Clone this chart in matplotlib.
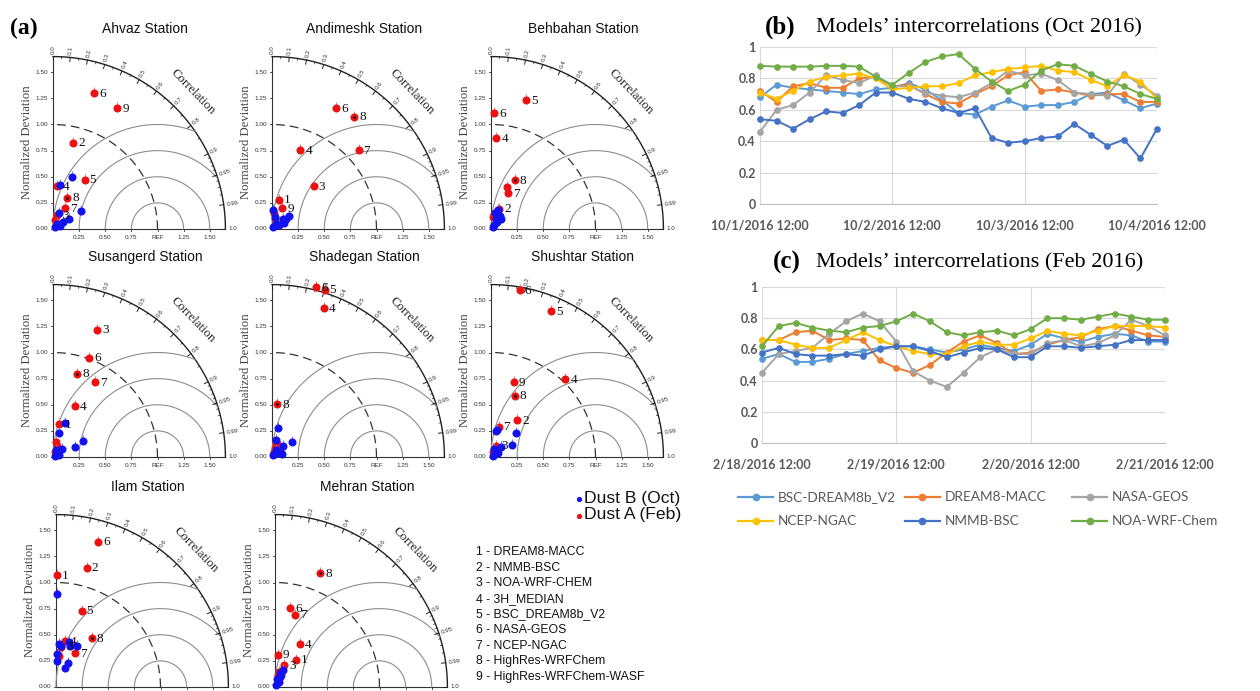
import numpy as np
import matplotlib
matplotlib.use("Agg")
import matplotlib.pyplot as plt
from matplotlib.lines import Line2D
from matplotlib.transforms import offset_copy

# ---------------- Taylor diagram data (normalized std, correlation) ----------------
stations = ["Ahvaz", "Andimeshk", "Behbahan", "Susangerd", "Shadegan",
            "Shushtar", "Ilam", "Mehran"]

# red = Dust A (Feb), models 1..9
red_std = {
    "Ahvaz":     [0.09, 0.85, 0.14, 0.41, 0.56, 1.36, 0.23, 0.33, 1.31],
    "Andimeshk": [0.29, 0.15, 0.57, 0.80, 0.10, 1.31, 1.12, 1.33, 0.22],
    "Behbahan":  [0.15, 0.21, 0.43, 0.87, 1.28, 1.11, 0.38, 0.52, 0.12],
    "Susangerd": [0.32, 0.15, 1.29, 0.53, 0.11, 1.01, 0.82, 0.83, 0.05],
    "Shadegan":  [0.09, 0.13, 0.05, 1.51, 1.68, 1.68, 0.10, 0.51, 0.15],
    "Shushtar":  [0.05, 0.43, 0.12, 1.03, 1.51, 1.62, 0.30, 0.63, 0.75],
    "Ilam":      [1.07, 1.18, 0.39, 0.45, 0.77, 1.45, 0.37, 0.58, 0.30],
    "Mehran":    [0.33, 0.12, 0.23, 0.47, 0.15, 0.77, 0.72, 1.17, 0.31],
}
red_cor = {
    "Ahvaz":     [0.22, 0.23, 0.29, 0.10, 0.54, 0.29, 0.52, 0.42, 0.47],
    "Andimeshk": [0.24, 0.13, 0.70, 0.34, 0.29, 0.47, 0.74, 0.59, 0.45],
    "Behbahan":  [0.20, 0.37, 0.35, 0.06, 0.26, 0.03, 0.43, 0.44, 0.16],
    "Susangerd": [0.19, 0.20, 0.33, 0.40, 0.37, 0.34, 0.49, 0.28, 0.37],
    "Shadegan":  [0.35, 0.38, 0.37, 0.33, 0.30, 0.25, 0.80, 0.10, 0.26],
    "Shushtar":  [0.37, 0.58, 0.41, 0.69, 0.38, 0.17, 0.24, 0.36, 0.29],
    "Ilam":      [0.01, 0.25, 0.13, 0.19, 0.32, 0.28, 0.49, 0.59, 0.10],
    "Mehran":    [0.61, 0.24, 0.39, 0.50, 0.26, 0.19, 0.27, 0.37, 0.08],
}
# which model numbers are written next to the red points
red_shown = {
    "Ahvaz":     [2, 3, 4, 5, 6, 7, 8, 9],
    "Andimeshk": [1, 3, 4, 6, 7, 8, 9],
    "Behbahan":  [2, 4, 5, 6, 7, 8],
    "Susangerd": [1, 3, 4, 6, 7, 8],
    "Shadegan":  [4, 5, 6, 8],
    "Shushtar":  [2, 3, 4, 5, 6, 7, 8, 9],
    "Ilam":      [1, 2, 3, 4, 5, 6, 7, 8],
    "Mehran":    [1, 3, 4, 6, 7, 8, 9],
}
# blue = Dust B (Oct)
blue_std = {
    "Ahvaz":     [0.53, 0.43, 0.32, 0.18, 0.16, 0.06, 0.07, 0.03, 0.12],
    "Andimeshk": [0.21, 0.14, 0.06, 0.18, 0.12, 0.08, 0.17, 0.02, 0.13],
    "Behbahan":  [0.19, 0.15, 0.09, 0.05, 0.16, 0.13, 0.03, 0.11],
    "Susangerd": [0.35, 0.24, 0.33, 0.23, 0.11, 0.07, 0.06, 0.02],
    "Shadegan":  [0.28, 0.17, 0.24, 0.15, 0.08, 0.08, 0.02, 0.10],
    "Shushtar":  [0.27, 0.25, 0.33, 0.23, 0.14, 0.08, 0.08, 0.02],
    "Ilam":      [0.89, 0.40, 0.45, 0.41, 0.44, 0.32, 0.25, 0.26, 0.20, 0.41],
    "Mehran":    [0.18, 0.14, 0.08, 0.06, 0.02, 0.11, 0.13],
}
blue_cor = {
    "Ahvaz":     [0.34, 0.16, 0.85, 0.83, 0.37, 0.63, 0.89, 0.71, 0.82],
    "Andimeshk": [0.79, 0.74, 0.63, 0.06, 0.24, 0.87, 0.81, 0.45, 0.89],
    "Behbahan":  [0.36, 0.60, 0.65, 0.60, 0.26, 0.71, 0.71, 0.45],
    "Susangerd": [0.34, 0.25, 0.88, 0.90, 0.75, 0.45, 0.95, 0.89],
    "Shadegan":  [0.22, 0.20, 0.79, 0.72, 0.50, 0.87, 0.45, 0.95],
    "Shushtar":  [0.23, 0.20, 0.72, 0.86, 0.71, 0.39, 0.87, 0.89],
    "Ilam":      [0.01, 0.12, 0.27, 0.32, 0.46, 0.03, 0.04, 0.46, 0.43, 0.07],
    "Mehran":    [0.40, 0.33, 0.24, 0.57, 0.24, 0.47, 0.45],
}

model_list = ["DREAM8-MACC", "NMMB-BSC", "NOA-WRF-CHEM", "3H_MEDIAN",
              "BSC_DREAM8b_V2", "NASA-GEOS", "NCEP-NGAC", "HighRes-WRFChem",
              "HighRes-WRFChem-WASF"]

# ---------------- intercorrelation line charts ----------------
series_names = ["BSC-DREAM8b_V2", "DREAM8-MACC", "NASA-GEOS",
                "NCEP-NGAC", "NMMB-BSC", "NOA-WRF-Chem"]
series_colors = ["#5B9BD5", "#ED7D31", "#A5A5A5", "#FFC000", "#4472C4", "#70AD47"]

oct_labels = ["10/1/2016 12:00", "10/2/2016 12:00", "10/3/2016 12:00", "10/4/2016 12:00"]
oct_bsc = [0.68, 0.76, 0.74, 0.73, 0.72, 0.71, 0.70, 0.73, 0.74, 0.77, 0.73, 0.66, 0.58,
           0.57, 0.62, 0.66, 0.62, 0.63, 0.63, 0.65, 0.70, 0.71, 0.66, 0.61, 0.64]
oct_dream = [0.72, 0.65, 0.75, 0.77, 0.74, 0.74, 0.80, 0.81, 0.75, 0.76, 0.70, 0.65, 0.64,
             0.70, 0.75, 0.82, 0.84, 0.72, 0.73, 0.71, 0.69, 0.70, 0.70, 0.65, 0.65]
oct_nasa = [0.46, 0.60, 0.63, 0.71, 0.82, 0.79, 0.77, 0.82, 0.75, 0.75, 0.71, 0.69, 0.68,
            0.71, 0.77, 0.85, 0.82, 0.83, 0.79, 0.71, 0.70, 0.69, 0.83, 0.76, 0.69]
oct_ncep = [0.71, 0.67, 0.72, 0.78, 0.81, 0.82, 0.83, 0.80, 0.73, 0.74, 0.75, 0.75, 0.77,
            0.82, 0.84, 0.86, 0.87, 0.88, 0.85, 0.84, 0.79, 0.75, 0.82, 0.78, 0.67]
oct_nmmb = [0.54, 0.53, 0.48, 0.54, 0.59, 0.58, 0.63, 0.71, 0.71, 0.67, 0.65, 0.61, 0.58,
            0.61, 0.42, 0.39, 0.40, 0.42, 0.43, 0.51, 0.44, 0.37, 0.41, 0.29, 0.48]
oct_noa = [0.88, 0.875, 0.875, 0.875, 0.88, 0.88, 0.875, 0.81, 0.76, 0.835, 0.905, 0.94, 0.955,
           0.86, 0.78, 0.72, 0.76, 0.85, 0.89, 0.88, 0.83, 0.78, 0.75, 0.70, 0.67]

feb_labels = ["2/18/2016 12:00", "2/19/2016 12:00", "2/20/2016 12:00", "2/21/2016 12:00"]
feb_bsc = [0.54, 0.57, 0.52, 0.52, 0.54, 0.57, 0.59, 0.61, 0.62, 0.62, 0.60, 0.58, 0.60,
           0.63, 0.61, 0.59, 0.63, 0.70, 0.67, 0.65, 0.68, 0.70, 0.69, 0.65, 0.65]
feb_dream = [0.66, 0.66, 0.71, 0.72, 0.66, 0.67, 0.66, 0.53, 0.48, 0.45, 0.50, 0.58, 0.65,
             0.69, 0.64, 0.57, 0.58, 0.63, 0.66, 0.68, 0.73, 0.75, 0.72, 0.69, 0.68]
feb_nasa = [0.45, 0.57, 0.59, 0.61, 0.70, 0.78, 0.83, 0.78, 0.65, 0.46, 0.40, 0.36, 0.45,
            0.55, 0.60, 0.57, 0.57, 0.64, 0.66, 0.62, 0.64, 0.69, 0.79, 0.75, 0.69]
feb_ncep = [0.66, 0.66, 0.63, 0.61, 0.61, 0.66, 0.71, 0.66, 0.62, 0.59, 0.57, 0.57, 0.62,
            0.65, 0.63, 0.63, 0.67, 0.72, 0.70, 0.69, 0.72, 0.75, 0.75, 0.75, 0.74]
feb_nmmb = [0.58, 0.61, 0.57, 0.56, 0.56, 0.57, 0.56, 0.60, 0.62, 0.62, 0.59, 0.55, 0.58,
            0.61, 0.60, 0.55, 0.55, 0.62, 0.62, 0.61, 0.62, 0.63, 0.66, 0.66, 0.66]
feb_noa = [0.62, 0.75, 0.77, 0.74, 0.72, 0.71, 0.74, 0.75, 0.78, 0.83, 0.78, 0.71, 0.69,
           0.71, 0.72, 0.69, 0.73, 0.80, 0.80, 0.79, 0.81, 0.83, 0.81, 0.79, 0.79]

W, H = 1260, 691
fig = plt.figure(figsize=(W / 100, H / 100), dpi=100)


def px_axes(x0, y0, w, h):
    # x0 = left, y0 = bottom, both in image pixels counted from the top-left
    return fig.add_axes([x0 / W, 1 - y0 / H, w / W, h / H])


def fx(x):
    return x / W


def fy(y):
    return 1 - y / H


SERIF = "Liberation Serif"
SANS = "Liberation Sans"
R = 1.65
S = 104.5
origins = [(53, 229), (272, 229), (491, 229), (53, 457), (272, 457), (491, 457),
           (56, 687), (275, 687)]


def taylor(ax, name, xlabels=True):
    ax.set_xlim(0, R)
    ax.set_ylim(0, R)
    ax.axis("off")
    k = dict(clip_on=False)
    th = np.linspace(0, np.pi / 2, 300)
    ax.plot(R * np.cos(th), R * np.sin(th), color="#222222", lw=1.0, **k)
    ax.plot([0, 0], [0, R], color="#333333", lw=0.8, **k)
    ax.plot([0, R], [0, 0], color="#333333", lw=0.8, **k)
    ax.plot(np.cos(th), np.sin(th), color="#333333", lw=0.9, ls=(0, (7, 4)), **k)
    t = np.linspace(0, np.pi, 400)
    for r in [0.25, 0.5, 0.75, 1.0]:
        xx = 1 + r * np.cos(t)
        yy = r * np.sin(t)
        m = xx ** 2 + yy ** 2 <= R ** 2
        ax.plot(xx[m], yy[m], color="#8c8c8c", lw=0.8, **k)

    # correlation ticks on the outer arc
    major = [0.0, 0.1, 0.2, 0.3, 0.4, 0.5, 0.6, 0.7, 0.8, 0.9, 0.95, 0.99, 1.0]
    minor = list(np.arange(0.05, 0.9, 0.1)) + list(np.arange(0.91, 0.99, 0.01))
    for c in minor:
        a = np.arccos(c)
        ax.plot([(R - 0.018) * np.cos(a), R * np.cos(a)],
                [(R - 0.018) * np.sin(a), R * np.sin(a)], color="#222222", lw=0.5, **k)
    for c in major:
        a = np.arccos(c)
        ax.plot([(R - 0.04) * np.cos(a), R * np.cos(a)],
                [(R - 0.04) * np.sin(a), R * np.sin(a)], color="#222222", lw=0.7, **k)
        lab = "%.2f" % c if c in (0.95, 0.99) else "%.1f" % c
        ax.text((R + 0.025) * np.cos(a), (R + 0.025) * np.sin(a), lab,
                rotation=np.degrees(a), rotation_mode="anchor", ha="left", va="center",
                fontsize=4.5, family=SANS, color="#333333")
    ax.text(1.34, 1.31, "Correlation", rotation=-46, ha="center", va="center",
            fontsize=9.3, family=SERIF, color="#222222")

    # std axes
    for v in np.arange(0, 1.51, 0.25):
        ax.plot([-0.02, 0], [v, v], color="#333333", lw=0.6, **k)
        ax.text(-0.045, v, "%.2f" % v, ha="right", va="center", fontsize=4.6,
                family=SANS, color="#333333")
    for v in np.arange(0.25, 1.51, 0.25):
        ax.plot([v, v], [-0.02, 0], color="#333333", lw=0.6, **k)
        if xlabels:
            ax.text(v, -0.085, "REF" if v == 1.0 else "%.2f" % v, ha="center",
                    va="center", fontsize=4.6, family=SANS, color="#333333")
    ax.text(-0.25, 0.83, "Normalized Deviation", rotation=90, ha="center", va="center",
            fontsize=9.2, family=SERIF, color="#444444")
    ax.text(0.88, 1.91, name + " Station", ha="center", va="center", fontsize=10,
            family=SANS, color="#111111")

    pin = offset_copy(ax.transData, fig=fig, x=0, y=4, units="dots")
    rs = np.array(red_std[name])
    rc = np.array(red_cor[name])
    rx, ry = rs * rc, rs * np.sqrt(1 - rc ** 2)
    bs = np.array(blue_std[name])
    bc = np.array(blue_cor[name])
    bx, by = bs * bc, bs * np.sqrt(1 - bc ** 2)

    ax.plot(rx, ry, "|", ms=3, mew=0.8, color="#f47a7a", transform=pin, **k)
    ax.plot(rx, ry, "o", ms=5.8, mec="none", color="#ee1111", **k)
    ax.plot(rx[7], ry[7], "o", ms=1.8, mec="none", color="black", **k)
    ax.plot(bx, by, "|", ms=3, mew=0.8, color="#7a7af4", transform=pin, **k)
    ax.plot(bx, by, "o", ms=5.8, mec="none", color="#1212ee", **k)
    for n in red_shown[name]:
        ax.annotate(str(n), (rx[n - 1], ry[n - 1]), xytext=(3.6, -0.5),
                    textcoords="offset points", ha="left", va="center",
                    fontsize=9.5, family=SERIF, color="#111111")


for i, (name, (ox, oy)) in enumerate(zip(stations, origins)):
    ax = px_axes(ox, oy, R * S, R * S)
    # the bottom row's x labels fall below the edge of the picture
    taylor(ax, name, xlabels=i < 6)

fig.text(fx(10), fy(28), "(a)", fontsize=17, fontweight="bold", family=SERIF,
         ha="left", va="center")

# Dust legend and model list
for yy, col, lab in [(498, "#1212ee", "Dust B (Oct)"), (515, "#ee1111", "Dust A (Feb)")]:
    fig.add_artist(Line2D([fx(579)], [fy(yy + 1)], marker="o", ms=3.8, mec="none",
                          color=col, linestyle="none"))
    fig.text(fx(584), fy(yy), lab, fontsize=12.6, family=SANS, ha="left", va="center",
             color="#111111")
for i, m in enumerate(model_list):
    fig.text(fx(476), fy(552 + 15.6 * i), "%d - %s" % (i + 1, m), fontsize=8.8,
             family=SANS, ha="left", va="center", color="#111111")


# ---------------- line panels ----------------
def line_panel(ax, series, xlabels):
    x = np.arange(len(series[0]))
    ax.set_xlim(0, 24)
    ax.set_ylim(0, 1)
    ax.set_yticks([0, 0.2, 0.4, 0.6, 0.8, 1.0])
    ax.set_yticklabels(["0", "0.2", "0.4", "0.6", "0.8", "1"])
    ax.set_xticks([0, 8, 16, 24])
    ax.set_xticklabels(xlabels)
    ax.grid(True, color="#d9d9d9", lw=0.8)
    ax.set_axisbelow(True)
    for sp in ["top", "right", "left"]:
        ax.spines[sp].set_visible(False)
    ax.spines["bottom"].set_color("#bfbfbf")
    ax.tick_params(length=0, labelcolor="#595959", labelsize=9)
    ax.tick_params(axis="x", pad=11)
    ax.tick_params(axis="y", pad=3)
    for lab in ax.get_xticklabels() + ax.get_yticklabels():
        lab.set_fontweight("bold")
        lab.set_family("Lato")
    for vals, col in zip(series, series_colors):
        ax.plot(x, vals, color=col, lw=1.4, marker="o", ms=3.8, clip_on=False)


axb = px_axes(760, 204, 397, 157)
line_panel(axb, [oct_bsc, oct_dream, oct_nasa, oct_ncep, oct_nmmb, oct_noa], oct_labels)
axc = px_axes(762, 443, 403, 156)
line_panel(axc, [feb_bsc, feb_dream, feb_nasa, feb_ncep, feb_nmmb, feb_noa], feb_labels)

fig.text(fx(765), fy(27), "(b)", fontsize=18, fontweight="bold", family=SERIF,
         ha="left", va="center")
fig.text(fx(816), fy(28), "Models\u2019 intercorrelations (Oct 2016)", fontsize=16,
         family=SERIF, ha="left", va="center")
fig.text(fx(773), fy(262), "(c)", fontsize=18, fontweight="bold", family=SERIF,
         ha="left", va="center")
fig.text(fx(816), fy(263), "Models\u2019 intercorrelations (Feb 2016)", fontsize=16,
         family=SERIF, ha="left", va="center")

# legend under (c), laid out like the spreadsheet one
leg_x = [738, 905, 1072]
leg_y = [497, 521]
for i, (nm, col) in enumerate(zip(series_names, series_colors)):
    lx = leg_x[i % 3]
    ly = leg_y[i // 3]
    fig.add_artist(Line2D([fx(lx), fx(lx + 35)], [fy(ly), fy(ly)], color=col, lw=1.6))
    fig.add_artist(Line2D([fx(lx + 17.5)], [fy(ly)], marker="o", ms=4.5, color=col,
                          linestyle="none"))
    fig.text(fx(lx + 40), fy(ly), nm, fontsize=9.8, family="Lato", color="#595959",
             ha="left", va="center")

fig.savefig("out.png", dpi=100)
